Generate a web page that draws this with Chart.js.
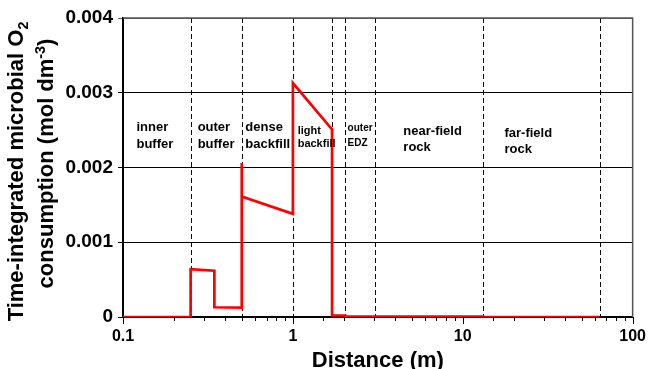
<!DOCTYPE html>
<html>
<head>
<meta charset="utf-8">
<script src="https://cdn.jsdelivr.net/npm/chart.js@4.4.1/dist/chart.umd.min.js"></script>
<style>
  body { margin: 0; background: #fff; }
  #wrap { width: 649px; height: 369px; }
</style>
</head>
<body>
<div id="wrap"><canvas id="chart" width="649" height="369"></canvas></div>
<script>
// Profile of time-integrated microbial O2 consumption vs distance
const distance = [0.1, 0.25, 0.25, 0.345, 0.345, 0.5, 0.5, 0.5, 1.0, 1.0, 1.7, 1.7, 2.03, 2.03, 13.1, 13.1, 64];
const consumption = [0, 0, 0.00064, 0.00062, 0.00013, 0.000126, 0.00206, 0.00161, 0.00138, 0.00313, 0.00251, 0.00002, 0.00002, 0.000006, 0.000006, 0, 0];

// Region boundaries (m)
const boundaries = [0.25, 0.5, 1.0, 1.7, 2.03, 3.03, 13.1, 64];

// Region names, placed at distance / level in data units
const regionNames = [['inner', 'buffer'], ['outer', 'buffer'], ['dense', 'backfill'], ['light', 'backfill'], ['outer', 'EDZ'], ['near-field', 'rock'], ['far-field', 'rock']];
const regionAt = [0.12, 0.275, 0.525, 1.067, 2.10, 4.47, 17.6];
const regionLevel = [0.00249, 0.00249, 0.002493, 0.002449, 0.002493, 0.002436, 0.002413];
const regionSize = [13, 13, 13, 11, 10, 13, 13];
const regionGap = [16.7, 16.7, 17, 12.7, 15, 16, 16.3];

const yTicks = [0, 0.001, 0.002, 0.003, 0.004];
const xTickLabels = [0.1, 1, 10, 100];

const FONT = "'Liberation Sans', Arial, sans-serif";

function isDecade(v) {
    const l = Math.log10(v);
    return Math.abs(l - Math.round(l)) < 1e-6;
}

// draw a string made of parts with sub/superscripts, centred on 0
function drawRich(ctx, parts, size) {
    let w = 0;
    parts.forEach(p => {
        ctx.font = `bold ${size * (p.s || 1)}px ${FONT}`;
        p.w = ctx.measureText(p.t).width;
        w += p.w;
    });
    let x = -w / 2;
    parts.forEach(p => {
        ctx.font = `bold ${size * (p.s || 1)}px ${FONT}`;
        ctx.fillText(p.t, x, (p.dy || 0) * size);
        x += p.w;
    });
}

const decor = {
    id: 'decor',
    beforeDatasetsDraw(chart) {
        const { ctx, chartArea, scales } = chart;
        ctx.save();
        ctx.strokeStyle = '#000';
        ctx.lineWidth = 1;
        ctx.setLineDash([5, 3]);
        boundaries.forEach(b => {
            const px = Math.round(scales.x.getPixelForValue(b)) + 0.5;
            ctx.beginPath();
            ctx.moveTo(px, chartArea.top);
            ctx.lineTo(px, chartArea.bottom);
            ctx.stroke();
        });
        ctx.restore();
    },
    afterDraw(chart) {
        const { ctx, chartArea, scales } = chart;
        ctx.save();
        // frame top / right
        ctx.strokeStyle = '#555';
        ctx.lineWidth = 1.5;
        ctx.beginPath();
        ctx.moveTo(chartArea.left, chartArea.top);
        ctx.lineTo(chartArea.right, chartArea.top);
        ctx.lineTo(chartArea.right, chartArea.bottom);
        ctx.stroke();

        // x tick marks, long at decades, short between
        ctx.strokeStyle = '#000';
        ctx.lineWidth = 1;
        scales.x.ticks.forEach(t => {
            const px = Math.round(scales.x.getPixelForValue(t.value)) + 0.5;
            ctx.beginPath();
            ctx.moveTo(px, chartArea.bottom);
            ctx.lineTo(px, chartArea.bottom + (isDecade(t.value) ? 7 : 4));
            ctx.stroke();
        });

        // region names
        ctx.fillStyle = '#000';
        ctx.textAlign = 'left';
        ctx.textBaseline = 'alphabetic';
        regionNames.forEach((lines, i) => {
            const px = scales.x.getPixelForValue(regionAt[i]);
            const py = scales.y.getPixelForValue(regionLevel[i]);
            ctx.font = `bold ${regionSize[i]}px ${FONT}`;
            lines.forEach((t, j) => ctx.fillText(t, px, py + j * regionGap[i]));
        });

        // x title
        ctx.font = `bold 22px ${FONT}`;
        ctx.textAlign = 'center';
        ctx.fillText('Distance (m)', (chartArea.left + chartArea.right) / 2, 366.5);

        // y title, two rotated lines
        ctx.textAlign = 'left';
        ctx.save();
        ctx.translate(23, 171.5);
        ctx.rotate(-Math.PI / 2);
        drawRich(ctx, [{ t: 'Time-integrated microbial O' }, { t: '2', s: 0.65, dy: 0.22 }], 22);
        ctx.restore();
        ctx.save();
        ctx.translate(53, 163.5);
        ctx.rotate(-Math.PI / 2);
        drawRich(ctx, [{ t: 'consumption (mol dm' }, { t: '-3', s: 0.65, dy: -0.38 }, { t: ')' }], 22);
        ctx.restore();
        ctx.restore();
    }
};

const ctx = document.getElementById('chart').getContext('2d');
new Chart(ctx, {
    type: 'scatter',
    data: {
        datasets: [{
            data: distance.map((x, i) => ({ x: x, y: consumption[i] })),
            showLine: true,
            borderColor: '#ff0000',
            borderWidth: 2.7,
            pointRadius: 0,
            tension: 0,
            fill: false
        }]
    },
    options: {
        responsive: false,
        animation: false,
        devicePixelRatio: 1,
        layout: { padding: { top: 18, right: 16, left: 0, bottom: 0 } },
        plugins: { legend: { display: false }, tooltip: { enabled: false } },
        scales: {
            x: {
                type: 'logarithmic',
                min: 0.1,
                max: 100,
                afterFit(s) { s.height = 52; },
                border: { color: '#000', width: 2 },
                grid: { drawOnChartArea: false, drawTicks: true, tickLength: 7, color: 'rgba(0,0,0,0)' },
                ticks: {
                    autoSkip: false,
                    maxRotation: 0,
                    padding: 3,
                    color: '#000',
                    font: { family: FONT, size: 16, weight: 'bold' },
                    callback: v => (isDecade(v) && xTickLabels.some(t => Math.abs(t - v) < 1e-9)) ? String(v) : ''
                }
            },
            y: {
                min: yTicks[0],
                max: yTicks[yTicks.length - 1],
                afterFit(s) { s.width = 123; },
                afterBuildTicks(s) { s.ticks = yTicks.map(v => ({ value: v })); },
                border: { color: '#000', width: 2 },
                grid: {
                    color: c => (c.tick && c.tick.value >= 0.004) ? '#555' : '#000',
                    lineWidth: 1,
                    tickLength: 5
                },
                ticks: {
                    padding: 5,
                    color: '#000',
                    font: { family: FONT, size: 19, weight: 'bold' },
                    callback: v => v === 0 ? '0' : v.toFixed(3)
                }
            }
        }
    },
    plugins: [decor]
});
</script>
</body>
</html>
